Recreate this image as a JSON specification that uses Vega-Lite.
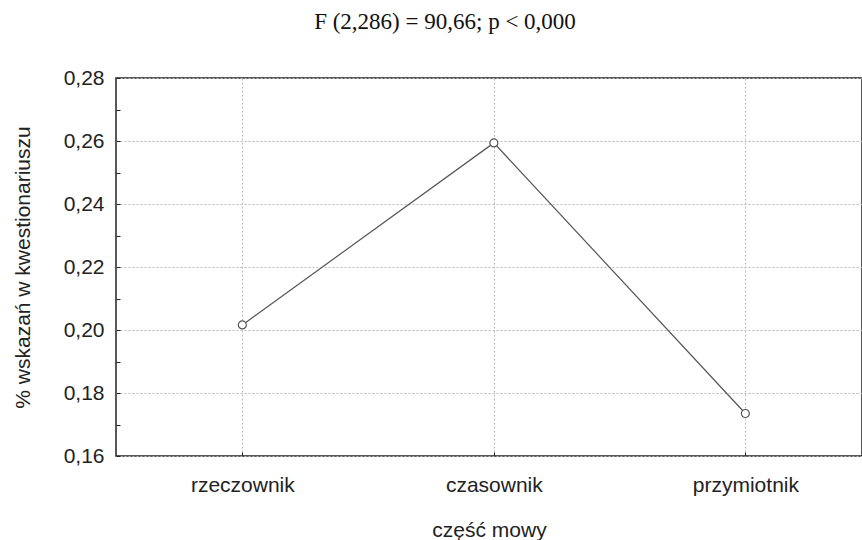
{
  "$schema": "https://vega.github.io/schema/vega-lite/v6.json",
  "width": 746,
  "height": 378,
  "autosize": {"type": "none"},
  "padding": {"left": 116, "top": 78, "right": 0, "bottom": 84},
  "background": "white",
  "config": {
    "view": {"stroke": "#222", "strokeWidth": 1.5},
    "font": "Liberation Sans"
  },
  "title": {
    "text": "F (2,286) = 90,66; p < 0,000",
    "font": "Liberation Serif",
    "fontSize": 23,
    "fontWeight": "normal",
    "color": "#111",
    "anchor": "middle",
    "frame": "group",
    "dx": -44,
    "offset": 33
  },
  "data": {
    "values": [
      {"part": "rzeczownik", "value": 0.2016},
      {"part": "czasownik", "value": 0.2594},
      {"part": "przymiotnik", "value": 0.1735}
    ]
  },
  "encoding": {
    "x": {
      "field": "part",
      "type": "nominal",
      "sort": null,
      "scale": {"type": "point", "padding": 0.483, "align": 0.52},
      "title": "część mowy"
    },
    "y": {
      "field": "value",
      "type": "quantitative",
      "scale": {"domain": [0.16, 0.28], "nice": false, "zero": false}
    }
  },
  "resolve": {"axis": {"x": "independent", "y": "independent"}},
  "layer": [
    {
      "mark": {"type": "line", "color": "#555", "strokeWidth": 1.2},
      "encoding": {
        "x": {
          "field": "part",
          "type": "nominal",
          "sort": null,
          "axis": {
            "orient": "bottom",
            "title": "część mowy",
            "titleFont": "Liberation Sans",
            "titleFontSize": 21,
            "titleFontWeight": "normal",
            "titleColor": "#222",
            "titlePadding": 24,
            "labelFont": "Liberation Sans",
            "labelFontSize": 21,
            "labelColor": "#222",
            "labelAngle": 0,
            "labelPadding": 18,
            "ticks": false,
            "domain": false,
            "grid": true,
            "gridColor": "#bbb",
            "gridDash": [2, 2],
            "gridWidth": 1
          }
        },
        "y": {
          "field": "value",
          "type": "quantitative",
          "axis": {
            "orient": "left",
            "title": "% wskazań w kwestionariuszu",
            "titleFont": "Liberation Sans",
            "titleFontSize": 21,
            "titleFontWeight": "normal",
            "titleColor": "#222",
            "titlePadding": 30,
            "values": [0.16, 0.18, 0.2, 0.22, 0.24, 0.26, 0.28],
            "labelExpr": "replace(format(datum.value, '.2f'), '.', ',')",
            "labelFont": "Liberation Sans",
            "labelFontSize": 21,
            "labelColor": "#222",
            "labelPadding": 12,
            "ticks": false,
            "domain": false,
            "grid": true,
            "gridColor": "#bbb",
            "gridDash": [2, 2],
            "gridWidth": 1
          }
        }
      }
    },
    {
      "mark": {"type": "point", "shape": "circle", "filled": true, "fill": "white", "stroke": "#555", "strokeWidth": 1.2, "size": 64, "opacity": 1},
      "encoding": {
        "x": {
          "field": "part",
          "type": "nominal",
          "sort": null,
          "axis": {
            "orient": "bottom",
            "title": null,
            "labels": false,
            "domain": false,
            "grid": false,
            "ticks": true,
            "tickSize": 4,
            "tickColor": "#222",
            "offset": -4
          }
        },
        "y": {
          "field": "value",
          "type": "quantitative",
          "axis": {
            "orient": "left",
            "title": null,
            "labels": false,
            "domain": false,
            "grid": false,
            "ticks": true,
            "values": [0.16, 0.17, 0.18, 0.19, 0.2, 0.21, 0.22, 0.23, 0.24, 0.25, 0.26, 0.27, 0.28],
            "tickSize": 4,
            "tickColor": "#222",
            "offset": -4
          }
        }
      }
    }
  ]
}
